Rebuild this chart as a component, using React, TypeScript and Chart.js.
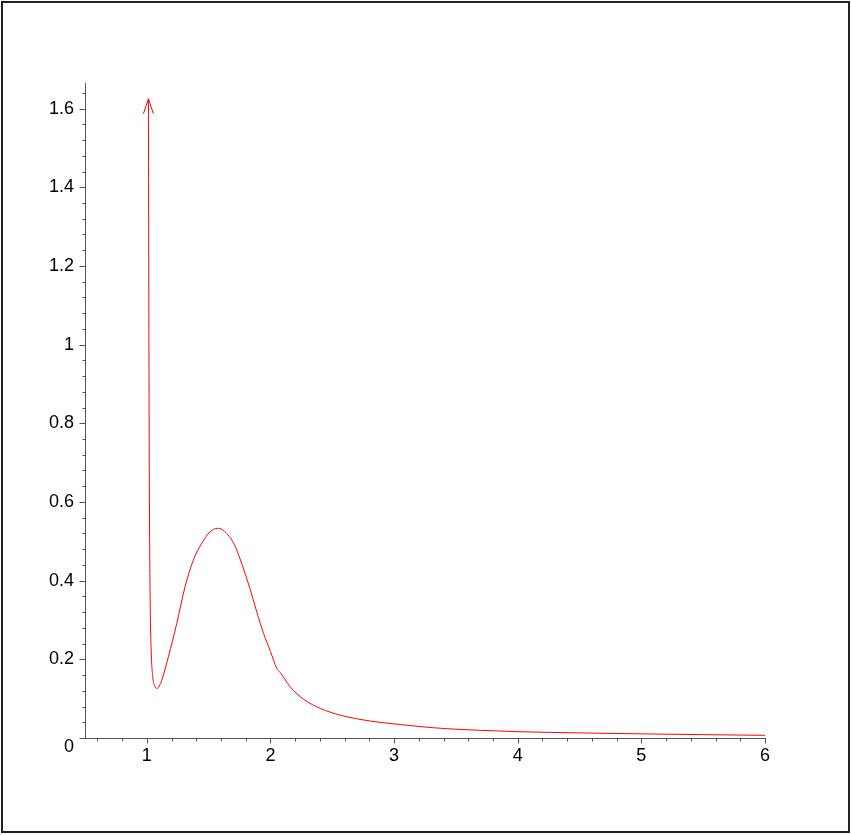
import React, { useEffect, useRef } from 'react';
import { Chart, registerables } from 'chart.js';

Chart.register(...registerables);

// Curve samples (x, y)
const xValues = [
  1.013, 1.017, 1.021, 1.027, 1.035, 1.048, 1.062, 1.081, 1.1, 1.121,
  1.175, 1.242, 1.309, 1.376, 1.444, 1.511, 1.57, 1.61, 1.646, 1.69,
  1.727, 1.78, 1.834, 1.89, 1.944, 2.0, 2.05, 2.08, 2.16, 2.27,
  2.405, 2.565, 2.81, 3.01, 3.21, 3.43, 3.7, 4.01, 4.5, 5.0,
  5.5, 6.0,
];
const yValues = [
  1.625, 1.0, 0.6, 0.351, 0.224, 0.156, 0.134, 0.126, 0.132, 0.147,
  0.207, 0.291, 0.384, 0.452, 0.495, 0.524, 0.533, 0.53, 0.52, 0.502,
  0.478, 0.432, 0.38, 0.32, 0.266, 0.22, 0.178, 0.166, 0.13, 0.098,
  0.075, 0.058, 0.043, 0.0355, 0.029, 0.0236, 0.0195, 0.016, 0.013, 0.0105,
  0.0085, 0.0068,
];

// Axis ticks
const xMajorTicks = [1, 2, 3, 4, 5, 6];
const yMajorTicks = [0, 0.2, 0.4, 0.6, 0.8, 1, 1.2, 1.4, 1.6];
const X_MIN = 0.5;
const X_MAX = 6;
const Y_MIN = 0;
const Y_MAX = 1.665;
const X_MINOR_STEP = 0.2;
const Y_MINOR_STEP = 0.04;

const FONT_FAMILY = '"Liberation Sans", Arial, Helvetica, sans-serif';
const AXIS_COLOR = '#555555';
const CURVE_COLOR = '#ff0000';

function minorTicks(min: number, max: number, step: number): number[] {
  const out: number[] = [];
  const start = Math.ceil(min / step - 1e-9);
  const end = Math.floor(max / step + 1e-9);
  for (let i = start; i <= end; i++) out.push(Math.round(i * step * 1000) / 1000);
  return out;
}

const tickMarksPlugin = {
  id: 'mapleTickMarks',
  afterDraw(chart: any) {
    const ctx = chart.ctx;
    const xs = chart.scales.x;
    const ys = chart.scales.y;
    const axisY = Math.round(ys.getPixelForValue(0)) + 0.5;
    const axisX = Math.round(chart.chartArea.left) + 0.5;
    ctx.save();
    ctx.strokeStyle = AXIS_COLOR;
    ctx.lineWidth = 1;
    ctx.beginPath();
    const xMinor = minorTicks(X_MIN, X_MAX, X_MINOR_STEP);
    for (const v of xMinor) {
      const major = xMajorTicks.some((m) => Math.abs(m - v) < 1e-6);
      const px = Math.round(xs.getPixelForValue(v)) + 0.5;
      ctx.moveTo(px, axisY);
      ctx.lineTo(px, axisY + (major ? 5 : 3));
    }
    const yMinor = minorTicks(Y_MIN, Y_MAX, Y_MINOR_STEP);
    for (const v of yMinor) {
      const major = yMajorTicks.some((m) => Math.abs(m - v) < 1e-6);
      const py = Math.round(ys.getPixelForValue(v)) + 0.5;
      ctx.moveTo(axisX, py);
      ctx.lineTo(axisX - (major ? 6 : 3), py);
    }
    ctx.stroke();
    ctx.restore();
  },
};

const arrowPlugin = {
  id: 'curveArrow',
  afterDatasetsDraw(chart: any) {
    const meta = chart.getDatasetMeta(0);
    const tip = meta.data[0];
    if (!tip) return;
    const ctx = chart.ctx;
    ctx.save();
    ctx.strokeStyle = CURVE_COLOR;
    ctx.lineWidth = 1;
    ctx.beginPath();
    ctx.moveTo(tip.x - 5, tip.y + 15);
    ctx.lineTo(tip.x, tip.y);
    ctx.lineTo(tip.x + 5, tip.y + 15);
    ctx.stroke();
    ctx.restore();
  },
};

export default function App() {
  const canvasRef = useRef<HTMLCanvasElement | null>(null);

  useEffect(() => {
    if (!canvasRef.current) return;
    const data = xValues.map((x, i) => ({ x, y: yValues[i] }));
    const chart = new Chart(canvasRef.current, {
      type: 'line',
      data: {
        datasets: [
          {
            data,
            borderColor: CURVE_COLOR,
            borderWidth: 1,
            pointRadius: 0,
            fill: false,
            cubicInterpolationMode: 'monotone',
          },
        ],
      },
      options: {
        animation: false,
        responsive: false,
        devicePixelRatio: 1,
        parsing: false,
        layout: { padding: { top: 83, right: 87, bottom: 0, left: 0 } },
        plugins: {
          legend: { display: false },
          tooltip: { enabled: false },
        },
        scales: {
          x: {
            type: 'linear',
            position: 'bottom',
            min: X_MIN,
            max: X_MAX,
            afterBuildTicks: (s: any) => {
              s.ticks = xMajorTicks.map((v) => ({ value: v }));
            },
            afterFit: (s: any) => {
              s.height = 97;
            },
            grid: { display: false, drawTicks: false },
            border: { display: true, color: AXIS_COLOR, width: 1 },
            ticks: {
              autoSkip: false,
              maxRotation: 0,
              padding: 7,
              color: '#000000',
              font: { family: FONT_FAMILY, size: 18 },
              callback: (v: any) => String(v),
            },
          },
          y: {
            type: 'linear',
            position: 'left',
            min: Y_MIN,
            max: Y_MAX,
            afterBuildTicks: (s: any) => {
              s.ticks = yMajorTicks.map((v) => ({ value: v }));
            },
            afterFit: (s: any) => {
              s.width = 85;
            },
            grid: { display: false, drawTicks: false },
            border: { display: true, color: AXIS_COLOR, width: 1 },
            ticks: {
              autoSkip: false,
              padding: 11,
              color: '#000000',
              font: { family: FONT_FAMILY, size: 18, lineHeight: 1 },
              callback: (v: any) => (v === 0 ? ['', '0'] : String(v)),
            },
          },
        },
      },
      plugins: [tickMarksPlugin, arrowPlugin],
    } as any);
    return () => chart.destroy();
  }, []);

  return (
    <div
      style={{
        position: 'absolute',
        left: 0,
        top: 0,
        width: 852,
        height: 835,
        background: '#ffffff',
      }}
    >
      <canvas
        ref={canvasRef}
        width={852}
        height={835}
        style={{ position: 'absolute', left: 0, top: 0, width: 852, height: 835 }}
      />
      <div
        style={{
          position: 'absolute',
          left: 1,
          top: 1,
          width: 849,
          height: 832,
          border: '2px solid #222222',
          boxSizing: 'border-box',
          pointerEvents: 'none',
        }}
      />
    </div>
  );
}
